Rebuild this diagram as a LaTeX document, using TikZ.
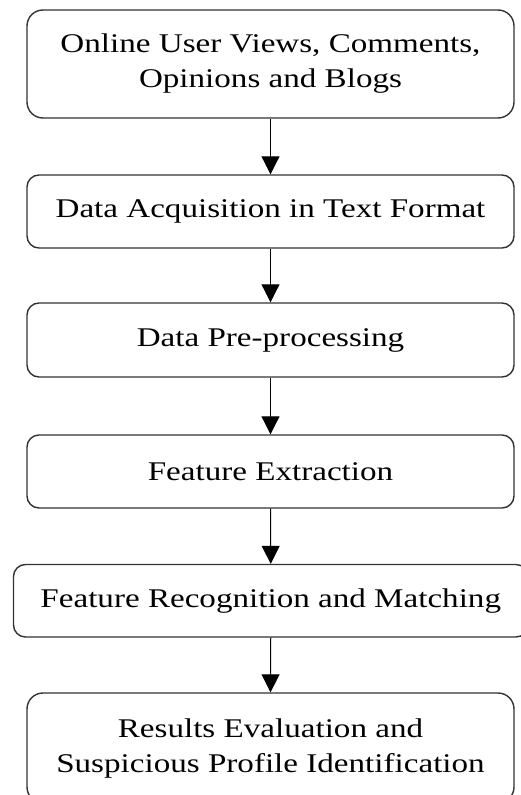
\documentclass[tikz,border=0pt]{standalone}
\usepackage{fontspec}
\setmainfont[FakeStretch=1.226]{Liberation Serif}
\usetikzlibrary{arrows.meta}
\begin{document}
\begin{tikzpicture}[x=1pt,y=-1pt,
  box/.style={draw=black!80, line width=1.4pt, rounded corners=#1, align=center,
    inner sep=0pt, font=\fontsize{27}{35}\selectfont},
  box/.default=12pt,
  flow/.style={draw=black, line width=1pt, -{Triangle[width=18pt,length=18pt]}}]
\fill[white] (0,0) rectangle (521,795);
\useasboundingbox (0,0) rectangle (521,795);
\node[box=16pt, minimum width=487pt, minimum height=108pt] (b1) at (270.5,64) {Online User Views, Comments,\\Opinions and Blogs};
\node[box, minimum width=487pt, minimum height=73pt] (b2) at (270.5,211.5) {Data Acquisition in Text Format};
\node[box, minimum width=487pt, minimum height=74pt] (b3) at (270.5,340) {Data Pre-processing};
\node[box, minimum width=487pt, minimum height=73pt] (b4) at (270.5,471.5) {Feature Extraction};
\node[box, minimum width=514.5pt, minimum height=72.5pt] (b5) at (270.75,600.75) {Feature Recognition and Matching};
\node[box=16pt, minimum width=487pt, minimum height=110pt] (b6) at (270.5,748) {Results Evaluation and\\Suspicious Profile Identification};
\draw[flow] (b1.south) -- (b2.north);
\draw[flow] (b2.south) -- (b3.north);
\draw[flow] (b3.south) -- (b4.north);
\draw[flow] (b4.south) -- (b5.north);
\draw[flow] (b5.south) -- (b6.north);
\end{tikzpicture}
\end{document}
